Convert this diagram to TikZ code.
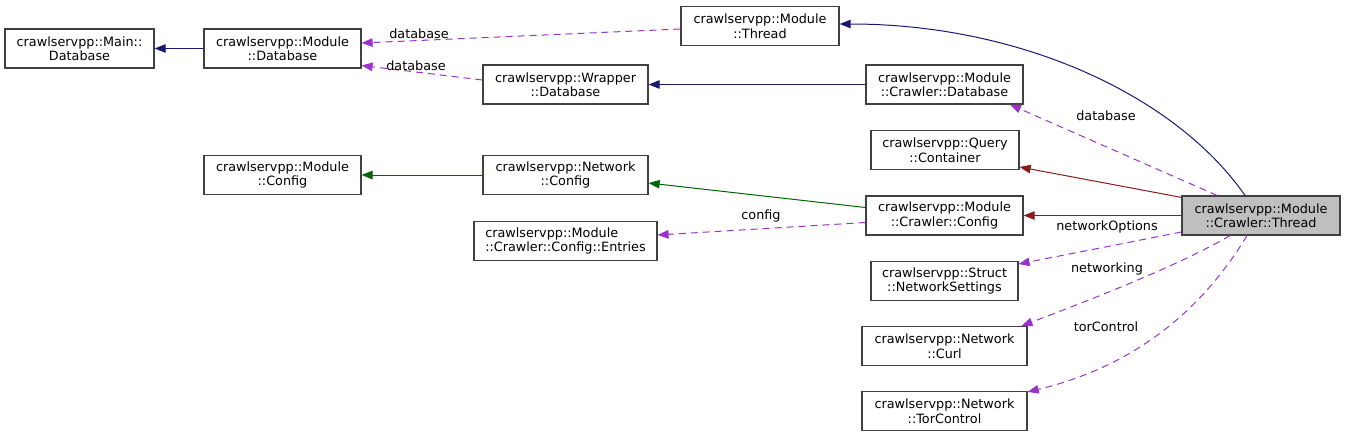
\documentclass[tikz,border=0pt]{standalone}
\usepackage{fontspec}
\setmainfont{DejaVu Sans}
\usetikzlibrary{arrows.meta}
\definecolor{pubc}{HTML}{191970}
\definecolor{privc}{HTML}{8B1A1A}
\definecolor{protc}{HTML}{006400}
\definecolor{usec}{HTML}{9A32CD}
\begin{document}
\begin{tikzpicture}[x=1pt,y=-1pt,
  every node/.style={font=\fontsize{12.8}{14.5}\selectfont},
  box/.style={draw=black!75, line width=1.2pt, fill=white, inner sep=0pt, minimum height=39pt, align=center},
  arr/.style={-{Triangle[length=11pt,width=8.5pt]}, line width=1pt},
  pub/.style={arr, draw=pubc},
  priv/.style={arr, draw=privc},
  prot/.style={arr, draw=protc},
  use/.style={arr, draw=usec, dash pattern=on 7pt off 5pt},
  lbl/.style={inner sep=1pt}]
\useasboundingbox (0,0) rectangle (1345,437);
\node[box, minimum width=149pt] (maindb) at (79.5,48.5) {crawlservpp::Main::\\Database};
\node[box, minimum width=157pt] (moddb) at (282.5,48.5) {crawlservpp::Module\\::Database};
\node[box, minimum width=158pt] (modthread) at (760,26) {crawlservpp::Module\\::Thread};
\node[box, minimum width=165pt] (wrapdb) at (565.5,84.5) {crawlservpp::Wrapper\\::Database};
\node[box, minimum width=157pt] (cdb) at (944.5,84.5) {crawlservpp::Module\\::Crawler::Database};
\node[box, minimum width=148pt] (qc) at (945,150) {crawlservpp::Query\\::Container};
\node[box, minimum width=157pt] (modcfg) at (282.5,175) {crawlservpp::Module\\::Config};
\node[box, minimum width=165pt] (netcfg) at (565.5,175) {crawlservpp::Network\\::Config};
\node[box, minimum width=183pt, align=left] (entries) at (565.5,241) {crawlservpp::Module\\::Crawler::Config::Entries};
\node[box, minimum width=157pt] (ccfg) at (944.5,215.5) {crawlservpp::Module\\::Crawler::Config};
\node[box, minimum width=158pt, fill=black!25] (cthread) at (1261,215.5) {crawlservpp::Module\\::Crawler::Thread};
\node[box, minimum width=147pt] (nset) at (944.5,281) {crawlservpp::Struct\\::NetworkSettings};
\node[box, minimum width=165pt] (curl) at (944.5,346) {crawlservpp::Network\\::Curl};
\node[box, minimum width=165pt] (tor) at (944.5,411) {crawlservpp::Network\\::TorControl};

\draw[pub] (moddb.west) -- (maindb.east);
\draw[use] ([yshift=-3pt]modthread.west) -- node[lbl, above, pos=0.82] {database} ([yshift=5.5pt]moddb.east);
\draw[use] ([yshift=4.5pt]wrapdb.west) -- node[lbl, above, pos=0.55] {database} ([yshift=-17pt]moddb.east);
\draw[pub] (cdb.west) -- (wrapdb.east);
\draw[pub] ([xshift=-16pt]cthread.north) .. controls (1175,95) and (1020,24) .. ([yshift=2pt]modthread.east);
\draw[use] ([xshift=-44pt]cthread.north) -- ([xshift=65.5pt]cdb.south);
\node[lbl] (l1) at (1106,116) {database};
\draw[priv] ([yshift=-2pt]cthread.north west) -- ([yshift=-17pt]qc.east);
\draw[priv] (cthread.west) -- (ccfg.east);
\draw[prot] ([yshift=8pt]ccfg.west) -- ([yshift=-8pt]netcfg.east);
\draw[prot] (netcfg.west) -- (modcfg.east);
\draw[use] ([yshift=-7pt]ccfg.west) -- ([yshift=6pt]entries.east);
\node[lbl] (l2) at (761,216) {config};
\draw[use] ([yshift=-16.5pt]cthread.west) -- ([yshift=17pt]nset.east);
\node[lbl] (l3) at (1107,227) {networkOptions};
\draw[use] ([xshift=-31pt]cthread.south) .. controls (1180,265) and (1090,300) .. ([xshift=77pt]curl.north);
\node[lbl] (l4) at (1107,269) {networking};
\draw[use] ([xshift=-14pt]cthread.south) .. controls (1205,305) and (1140,365) .. ([yshift=-1pt]tor.north east);
\node[lbl] (l5) at (1106,327) {torControl};
\end{tikzpicture}
\end{document}
